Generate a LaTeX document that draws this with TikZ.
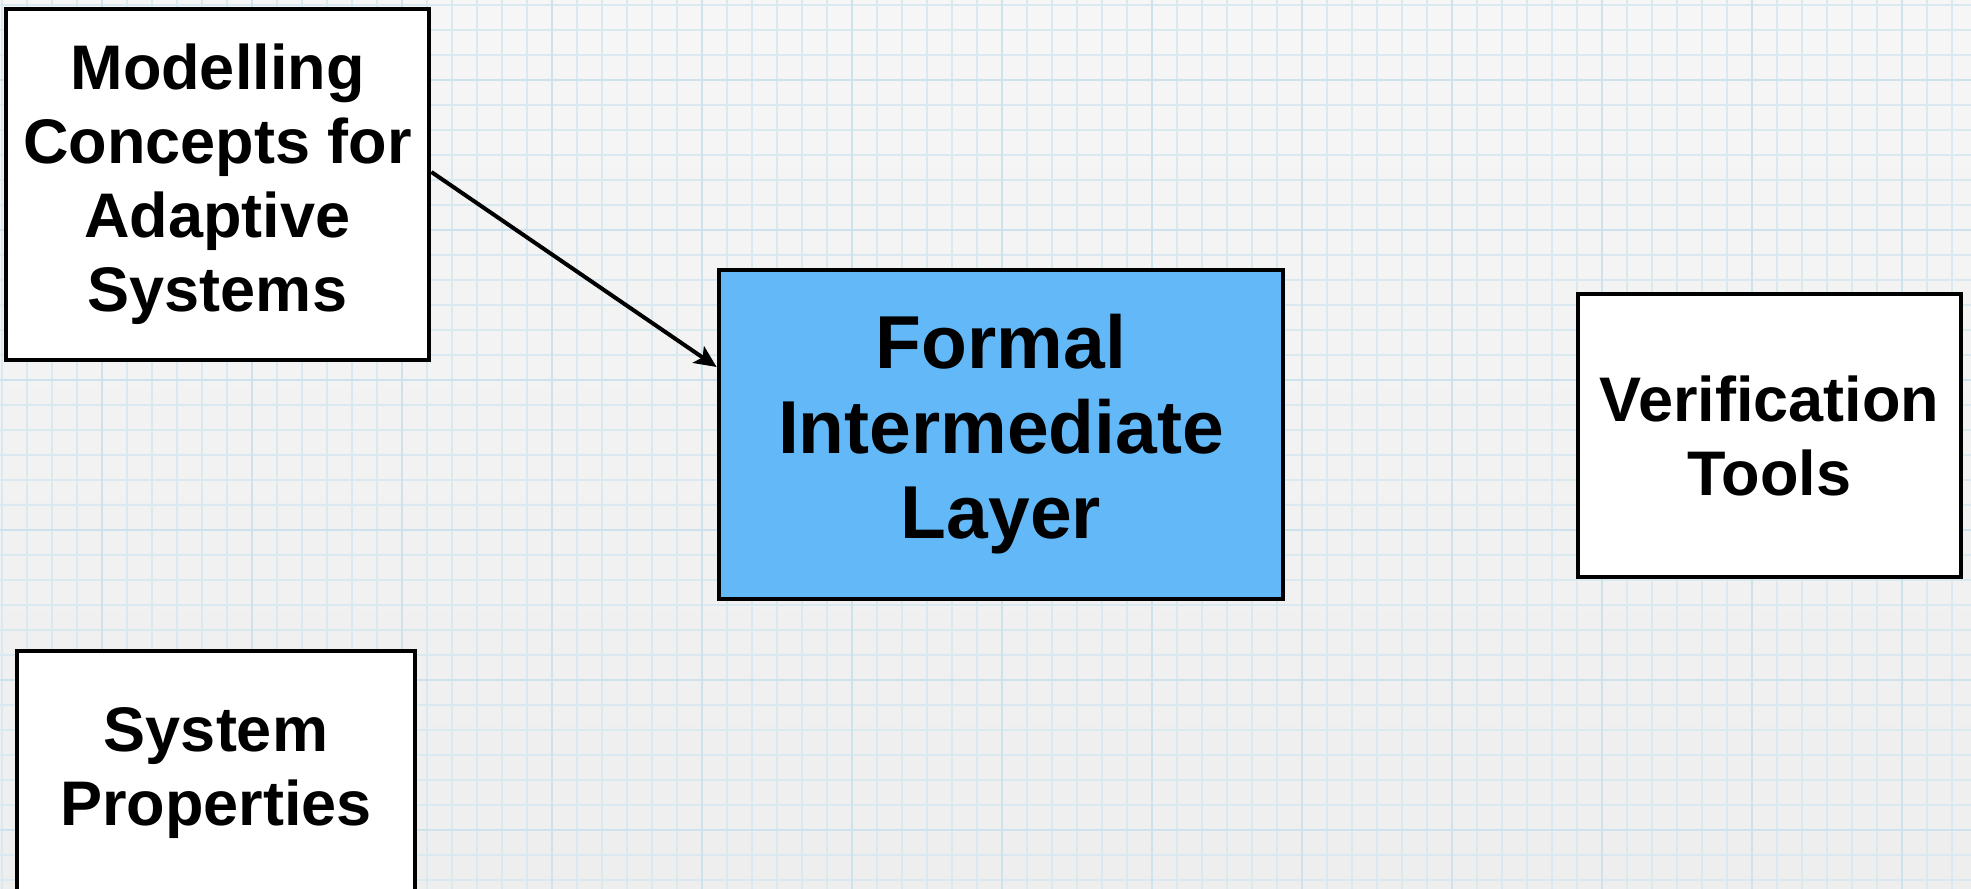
\documentclass[tikz,border=0pt]{standalone}
\usepackage{fontspec}
\setmainfont{Liberation Sans}
\usetikzlibrary{arrows.meta, positioning}

\definecolor{paper}{HTML}{F2F2F2}
\definecolor{papertop}{HTML}{F6F6F6}
\definecolor{paperbot}{HTML}{EEEEEE}
\definecolor{gridminor}{HTML}{DAE9EF}
\definecolor{gridmajor}{HTML}{CDE2EB}
\definecolor{layerblue}{HTML}{63B9F8}

\begin{document}
\begin{tikzpicture}[x=0.5pt, y=-0.5pt, >={Stealth[length=11pt, width=10pt, inset=2.5pt]},
    block/.style={draw, line width=2.4pt, fill=white, align=center, inner sep=0pt,
        font=\bfseries\fontsize{31.5}{37}\selectfont}]
    \useasboundingbox (0,0) rectangle (1971,889);
    \clip (0,0) rectangle (1971,889);

    % squared paper
    \shade[top color=papertop, bottom color=paperbot] (0,0) rectangle (1971,889);
    \foreach \x in {2,27,...,1977} {
        \draw[gridminor, line width=0.75pt] (\x,0) -- (\x,889);
    };
    \foreach \y in {5,30,...,894} {
        \draw[gridminor, line width=0.75pt] (0,\y) -- (1971,\y);
    };
    \foreach \x in {102,252,...,1971} {
        \draw[gridmajor, line width=1.4pt] (\x,0) -- (\x,889);
    };
    \foreach \y in {80,230,...,889} {
        \draw[gridmajor, line width=1.4pt] (0,\y) -- (1971,\y);
    };

    \node[block, minimum width=211.5pt, minimum height=175.5pt] at (217.5,184.5) (model)
        {Modelling\\Concepts for\\Adaptive\\Systems};
    \node[block, fill=layerblue, minimum width=282pt, minimum height=164.5pt,
        font=\bfseries\fontsize{37.5}{42.5}\selectfont] at (1001,434.5) (layer)
        {Formal\\Intermediate\\Layer};
    \node[block, minimum width=191.5pt, minimum height=141.5pt] at (1769.5,435.5) (tools)
        {Verification\\Tools};
    \node[block, minimum width=199pt, minimum height=122pt] at (216,773) (props)
        {System\\Properties};

    \draw[->, line width=2pt] ([yshift=6.25pt]model.east) -- ([yshift=33.75pt]layer.west);
\end{tikzpicture}
\end{document}
